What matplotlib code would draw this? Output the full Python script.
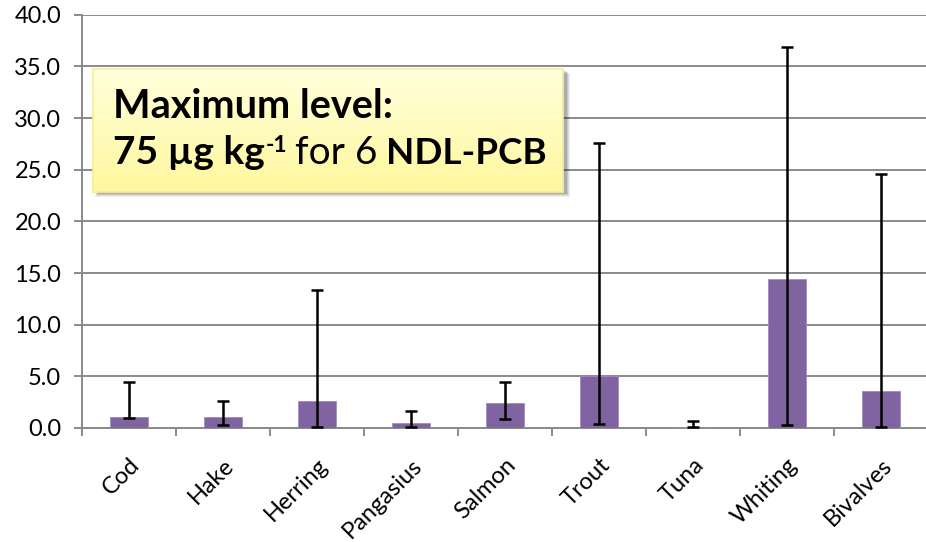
import matplotlib
matplotlib.use("Agg")
import matplotlib.pyplot as plt
import numpy as np
from matplotlib.patches import Rectangle

plt.rcParams['font.family'] = ['Lato', 'DejaVu Sans']

categories = ["Cod", "Hake", "Herring", "Pangasius", "Salmon", "Trout", "Tuna", "Whiting", "Bivalves"]
means = [1.1, 1.1, 2.65, 0.5, 2.45, 5.0, 0.1, 14.4, 3.6]
lows = [1.0, 0.3, 0.1, 0.1, 0.85, 0.4, 0.05, 0.25, 0.05]
highs = [4.5, 2.6, 13.4, 1.6, 4.5, 27.6, 0.65, 36.9, 24.6]
yticks = [0, 5, 10, 15, 20, 25, 30, 35, 40]

W, H = 926, 542
fig = plt.figure(figsize=(W / 100, H / 100), dpi=100)
ax = fig.add_axes([82 / W, (H - 428) / H, (W - 82) / W + 0.002, (428 - 14.7) / H])

x = np.arange(len(categories))
means_a = np.array(means)
yerr = [means_a - np.array(lows), np.array(highs) - means_a]

gray = "#8a8a8a"
ax.bar(x, means, width=0.41, color="#8064A2", edgecolor="#a08cc0", linewidth=0.6, zorder=3)
ax.errorbar(x, means, yerr=yerr, fmt="none", ecolor="black", elinewidth=1.8,
            capsize=4.2, capthick=1.8, zorder=4)

ax.set_xlim(-0.5, len(categories) - 0.5)
ax.set_ylim(0, 40)
ax.set_yticks(yticks)
ax.set_yticklabels([f"{v:.1f}" for v in yticks], fontsize=17)
ax.yaxis.grid(True, color=gray, linewidth=1.4, zorder=0)
ax.set_axisbelow(True)

for s in ["top", "right"]:
    ax.spines[s].set_visible(False)
for s in ["left", "bottom"]:
    ax.spines[s].set_color(gray)
    ax.spines[s].set_linewidth(1.4)

ax.tick_params(axis="y", length=6, width=1.4, color=gray, pad=9)
ax.set_xticks(np.arange(-0.5, len(categories) + 0.5, 1.0))
ax.set_xticklabels([])
ax.tick_params(axis="x", length=6, width=1.4, color=gray)
ax.set_xticks(x, minor=True)
ax.set_xticklabels(categories, minor=True, rotation=45, ha="right",
                   rotation_mode="anchor", fontsize=17)
ax.tick_params(axis="x", which="minor", length=0, pad=19)

# annotation box (figure pixel coords)
bx0, by0, bx1, by1 = 93, 69, 563, 192
def fx(px):
    return px / W
def fy(py):
    return 1 - py / H

# shadow
for i, a in enumerate([0.06, 0.08, 0.10, 0.12]):
    off = 5 - i
    sh = Rectangle((fx(bx0 + 2 + i), fy(by1 + off)), fx(bx1 - bx0 + off - i), (by1 - by0) / H,
                   transform=fig.transFigure, facecolor="black", alpha=a, edgecolor="none", zorder=5)
    fig.add_artist(sh)

bax = fig.add_axes([fx(bx0), fy(by1), (bx1 - bx0) / W, (by1 - by0) / H], zorder=10)
grad = np.linspace(0, 1, 100).reshape(-1, 1)
top = np.array([1.0, 1.0, 0.86])
bot = np.array([1.0, 0.97, 0.62])
img = top[None, None, :] * (1 - grad[:, :, None]) + bot[None, None, :] * grad[:, :, None]
bax.imshow(img, aspect="auto", extent=[0, 1, 0, 1], origin="upper")
bax.set_xlim(0, 1)
bax.set_ylim(0, 1)
bax.set_xticks([])
bax.set_yticks([])
for s in bax.spines.values():
    s.set_color("#f5ee9a")
    s.set_linewidth(1.2)

FS = 28.5
fig.text(fx(113), fy(118), "Maximum level:", fontsize=FS, fontweight="bold",
         ha="left", va="baseline", zorder=20)
base2 = fy(164)
fig.text(fx(113), base2, "75 µg kg", fontsize=28, fontweight="bold",
         ha="left", va="baseline", zorder=20)
fig.text(fx(266), base2 + 12 / H, "-1", fontsize=16.5, fontweight="bold",
         ha="left", va="baseline", zorder=20)
fig.text(fx(295), base2, "for 6", fontsize=28,
         ha="left", va="baseline", zorder=20)
fig.text(fx(386), base2, "NDL-PCB", fontsize=26.5, fontweight="bold",
         ha="left", va="baseline", zorder=20)

fig.savefig("out.png", dpi=100)
